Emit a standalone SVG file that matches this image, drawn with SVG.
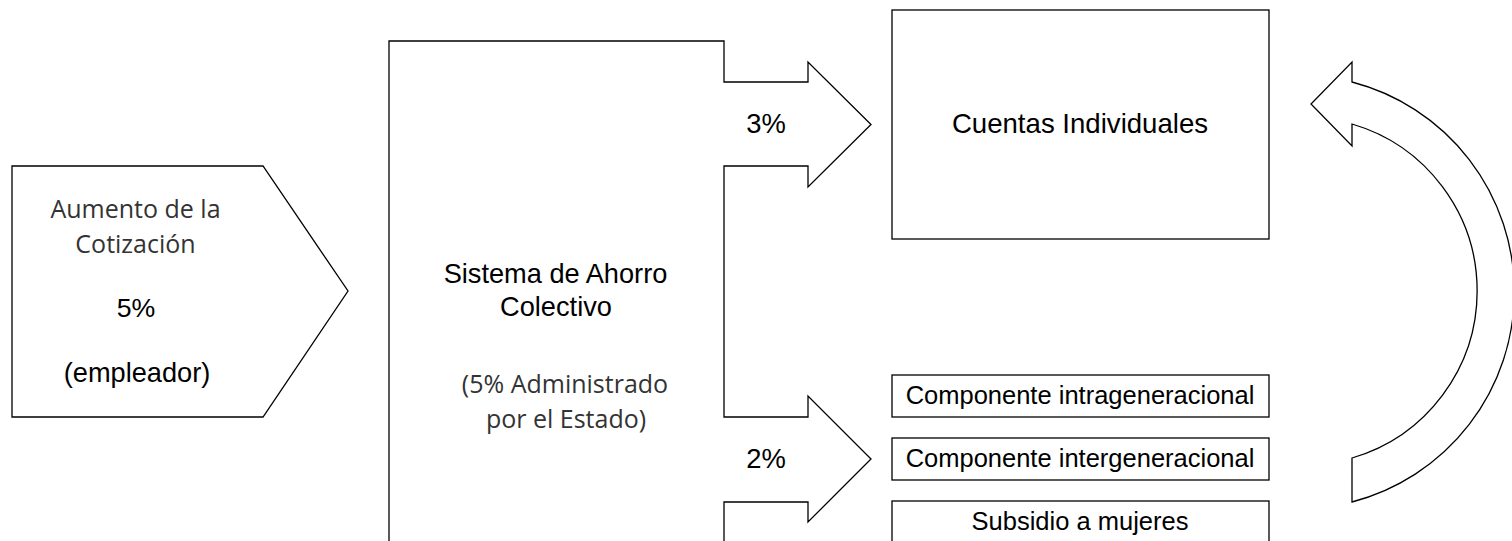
<svg xmlns="http://www.w3.org/2000/svg" width="1512" height="541" viewBox="0 0 1512 541">
  <style>
    .shape { fill: #ffffff; stroke: #000000; stroke-width: 1.3; stroke-linejoin: miter; }
    .ar { font-family: "Liberation Sans", Arial, sans-serif; fill: #000000; text-anchor: middle; }
    .os { font-family: "Open Sans", "Liberation Sans", sans-serif; fill: #333333; text-anchor: middle; font-size: 25px; }
  </style>
  <rect x="0" y="0" width="1512" height="541" fill="#ffffff"/>

  <g id="aumento">
    <path class="shape" d="M12,166 L263,166 L348,291 L263,417 L12,417 Z"/>
    <text class="os" x="135.5" y="218">Aumento de la</text>
    <text class="os" x="135.5" y="253">Cotización</text>
    <text class="ar" x="136" y="317" font-size="26.7">5%</text>
    <text class="ar" x="137" y="382" font-size="27.2">(empleador)</text>
  </g>

  <g id="sistema">
    <path class="shape" d="M389,550 L389,41 L724,41 L724,82 L808,82 L808,62 L871,124.5 L808,187 L808,166 L724,166 L724,417 L808,417 L808,396 L871,459 L808,522 L808,502 L724,502 L724,550"/>
    <text class="ar" x="555.5" y="283" font-size="27.2">Sistema de Ahorro</text>
    <text class="ar" x="556" y="316" font-size="27.2">Colectivo</text>
    <text class="os" x="565" y="393">(5% Administrado</text>
    <text class="os" x="566" y="428">por el Estado)</text>
  </g>

  <g id="connectors">
    <text class="ar" x="766" y="133" font-size="27.4">3%</text>
    <text class="ar" x="766" y="468" font-size="27.4">2%</text>
    <path id="curved-arrow" class="shape" d="M1352,82 A217,217 0 0 1 1352,502 L1352,458 A174,174 0 0 0 1352,124 L1352,146 L1311,104 L1352,62 Z"/>
  </g>

  <g id="cuentas">
    <rect class="shape" x="892" y="10" width="377" height="229"/>
    <text class="ar" x="1080" y="133" font-size="27.6">Cuentas Individuales</text>
  </g>

  <g id="intrageneracional">
    <rect class="shape" x="892" y="375" width="377" height="42"/>
    <text class="ar" x="1080" y="404" font-size="25.5">Componente intrageneracional</text>
  </g>

  <g id="intergeneracional">
    <rect class="shape" x="892" y="438" width="377" height="42"/>
    <text class="ar" x="1080" y="467" font-size="25.5">Componente intergeneracional</text>
  </g>

  <g id="subsidio">
    <rect class="shape" x="892" y="501" width="377" height="48"/>
    <text class="ar" x="1080" y="530" font-size="25.5">Subsidio a mujeres</text>
  </g>
</svg>
